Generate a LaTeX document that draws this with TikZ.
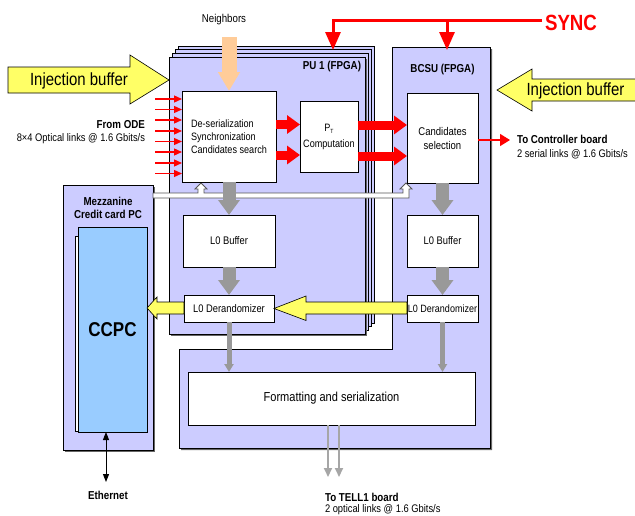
\documentclass[tikz,border=0pt]{standalone}
\usepackage{fontspec}
\setmainfont{Liberation Sans}[FakeStretch=0.85]
\usetikzlibrary{arrows.meta,calc}
\definecolor{boardblue}{HTML}{CCCCFF}
\definecolor{ccpcblue}{HTML}{99CCFF}
\definecolor{injyellow}{HTML}{FFFF66}
\definecolor{peach}{HTML}{FFCC99}
\definecolor{flowgray}{HTML}{999999}
\definecolor{outgray}{HTML}{A6A6A6}
\definecolor{busedge}{HTML}{555555}
\begin{document}
\begin{tikzpicture}[x=1pt,y=-1pt,
  every node/.style={inner sep=0pt,outer sep=0pt},
  fnt/.style 2 args={font=\fontsize{#1}{#2}\selectfont},
  boardsty/.style={fill=boardblue,draw=black,line width=0.7pt},
  shadowed/.style={preaction={fill=black!60,draw=none,transform canvas={xshift=2pt,yshift=-2pt}}},
  layersty/.style={fill=boardblue,draw=black,line width=0.6pt},
  blockbox/.style={draw=black,fill=white,line width=0.8pt,align=center,fnt={11}{13}},
  lbl/.style={fnt={11}{13}},
  boldlbl/.style={font=\bfseries\fontsize{11.5}{13}\selectfont},
  injarrow/.style={fill=injyellow,draw=black,line width=0.6pt},
  odearrow/.style={draw=red,line width=1.3pt,-{Triangle[width=7pt,length=8pt]}},
  fatred/.style={draw=red,line width=9pt,-{Triangle[width=18pt,length=13pt]}},
  thinred/.style={draw=red,line width=1.5pt,-{Triangle[width=12pt,length=10pt]}},
  syncline/.style={draw=red,line width=3pt,-{Triangle[width=15pt,length=18pt]}},
  fatgray/.style={draw=flowgray,line width=13pt,-{Triangle[width=21pt,length=15pt]}},
  midgray/.style={draw=flowgray,line width=5pt,-{Triangle[width=9pt,length=8pt]}},
  outarrow/.style={draw=outgray,line width=2pt,-{Triangle[width=8pt,length=9pt]}},
  ethline/.style={draw=black,line width=1pt,{Triangle[width=6pt,length=8pt]}-{Triangle[width=6pt,length=8pt]}},
  busband/.style={fill=white,draw=busedge,line width=0.8pt}
]
\useasboundingbox (0,0) rectangle (635,515);

% ---------------- boards ----------------
\node[layersty,anchor=north west,minimum width=196,minimum height=277] (pu3) at (178,46) {};
\node[layersty,anchor=north west,minimum width=196,minimum height=277] (pu2) at (175,49.5) {};
\node[layersty,anchor=north west,minimum width=196,minimum height=277] (pu1) at (172,53) {};
\node[boardsty,shadowed,anchor=north west,minimum width=196,minimum height=277] (pu) at (169,57) {};

\path[boardsty,shadowed] (392,47) -- (490,47) -- (490,448) -- (179,448) -- (179,349) -- (392,349) -- cycle;
\coordinate (bcsutop) at (447,47);

\node[boardsty,shadowed,anchor=north west,minimum width=90,minimum height=265] (mezz) at (63,185) {};
\draw[fill=white,draw=black,line width=0.6pt] (75,236) rectangle (144,431);
\node[draw=black,fill=ccpcblue,line width=0.7pt,minimum width=69,minimum height=205,
      font=\bfseries\fontsize{20}{24}\selectfont] (ccpc) at (112.5,329.5) {CCPC};

% ---------------- labels ----------------
\node[boldlbl] (pulabel) at (332,67) {PU 1 (FPGA)};
\node[boldlbl] (bcsulabel) at (442.5,70) {BCSU (FPGA)};
\node[boldlbl,align=center] (mezzlabel) at (108,207.5) {Mezzanine\\Credit card PC};
\node[fnt={11.4}{13}] (neigh) at (224,20) {Neighbors};
\node[boldlbl,anchor=east] (fromode) at (145,125) {From ODE};
\node[lbl,anchor=east] (optlinks) at (145,138.5) {8×4 Optical links @ 1.6 Gbits/s};
\node[boldlbl,anchor=west] (ctrl) at (517,139) {To Controller board};
\node[lbl,anchor=west] (ctrl2) at (517,154.5) {2 serial links @ 1.6 Gbits/s};
\node[boldlbl] (eth) at (108,495) {Ethernet};
\node[boldlbl,anchor=west] (tell) at (325,497) {To TELL1 board};
\node[lbl,anchor=west] (tell2) at (325,509.5) {2 optical links @ 1.6 Gbits/s};
\node[text=red,font=\bfseries\fontsize{22}{24}\selectfont] (sync) at (571,23) {SYNC};

% ---------------- white bus ----------------
\path[busband] (153,193) -- (198,193) -- (198,189) -- (195,189) -- (201,183) -- (207,189)
  -- (204,189) -- (204,193) -- (403,193) -- (403,189) -- (400,189) -- (406,183) -- (412,189)
  -- (409,189) -- (409,198) -- (153,198) -- cycle;

% ---------------- blocks ----------------
\node[blockbox,fnt={10.7}{13},align=left,minimum width=94,minimum height=91] (deser) at (229,136.5)
  {De-serialization\\Synchronization\\Candidates search};
\node[blockbox,fnt={10.7}{16},minimum width=58,minimum height=71] (pt) at (329,136.5)
  {P\raisebox{-2pt}{\fontsize{6}{6}\selectfont T}\\Computation};
\node[blockbox,fnt={11.2}{14},minimum width=71,minimum height=90] (cand) at (442.5,138)
  {Candidates\\selection};
\node[blockbox,minimum width=92,minimum height=52] (bufpu) at (229,241) {L0 Buffer};
\node[blockbox,minimum width=90,minimum height=27] (derpu) at (229,308.5) {L0 Derandomizer};
\node[blockbox,minimum width=71,minimum height=52] (bufbc) at (442.5,241) {L0 Buffer};
\node[blockbox,fnt={10.6}{13},minimum width=71,minimum height=27] (derbc) at (442.5,308.5) {L0 Derandomizer};
\node[blockbox,fnt={13}{15},minimum width=287,minimum height=53] (fmt) at (331.5,398.5)
  {Formatting and serialization};

% ---------------- injection buffers ----------------
\path[injarrow] (8,67) -- (130,67) -- (130,55) -- (pu.west |- 0,80) -- (130,104) -- (130,93) -- (8,93) -- cycle;
\node[fnt={17.6}{20}] (injl) at (79,80.5) {Injection buffer};
\path[injarrow] (640,79) -- (532,79) -- (532,69) -- (497,90) -- (532,111) -- (532,101) -- (640,101) -- cycle;
\node[fnt={17.6}{20}] (injr) at (575.5,90.5) {Injection buffer};

% yellow derandomizer arrows
\path[injarrow] (derbc.west |- 0,302) -- (306,302) -- (306,296) -- (derpu.east) -- (306,320.5) -- (306,314)
  -- (derbc.west |- 0,314) -- cycle;
\path[injarrow] (derpu.west |- 0,302) -- (157,302) -- (157,297) -- (ccpc.east |- 0,308) -- (157,319) -- (157,314)
  -- (derpu.west |- 0,314) -- cycle;

% ---------------- neighbours ----------------
\coordinate (nbsrc) at (229,37);
\draw[draw=peach,line width=15pt,-{Triangle[width=21pt,length=19pt]}] (nbsrc) -- (deser.north);

% ---------------- SYNC ----------------
\coordinate (syncstart) at (542,20);
\coordinate (syncjoin) at (447,20);
\coordinate (syncpu) at (333,50);
\coordinate (syncbc) at (447,50);
\draw[syncline] (syncstart) -| (syncpu);
\draw[syncline] (syncjoin) -- (syncbc);

% ---------------- ODE inputs ----------------
\foreach \yy [count=\i] in {99,109.5,120,131,141.5,152,163,173.5}{
  \coordinate (ode\i) at (155,\yy);
  \draw[odearrow] (ode\i) -- (deser.west |- ode\i);
}

% ---------------- red data paths ----------------
\draw[fatred] (deser.east |- 0,124.5) -- (pt.west |- 0,124.5);
\draw[fatred] (deser.east |- 0,155) -- (pt.west |- 0,155);
\draw[fatred] (pt.east |- 0,125) -- (cand.west |- 0,125);
\draw[fatred] (pt.east |- 0,156) -- (cand.west |- 0,156);
\coordinate (ctrltip) at (510,140);
\draw[thinred] (cand.east |- ctrltip) -- (ctrltip);

% ---------------- gray flows ----------------
\draw[fatgray] (deser.south) -- (bufpu.north);
\draw[fatgray] (bufpu.south) -- (derpu.north);
\draw[midgray] (derpu.south) -- (derpu.south |- fmt.north);
\draw[fatgray] (cand.south) -- (bufbc.north);
\draw[fatgray] (bufbc.south) -- (derbc.north);
\draw[midgray] (derbc.south) -- (derbc.south |- fmt.north);

\coordinate (tella) at (328,477);
\coordinate (tellb) at (339,477);
\draw[outarrow] (tella |- fmt.south) -- (tella);
\draw[outarrow] (tellb |- fmt.south) -- (tellb);

% ---------------- ethernet ----------------
\coordinate (ethend) at (106,482);
\draw[ethline] (ethend |- ccpc.south) -- (ethend);
\end{tikzpicture}
\end{document}
